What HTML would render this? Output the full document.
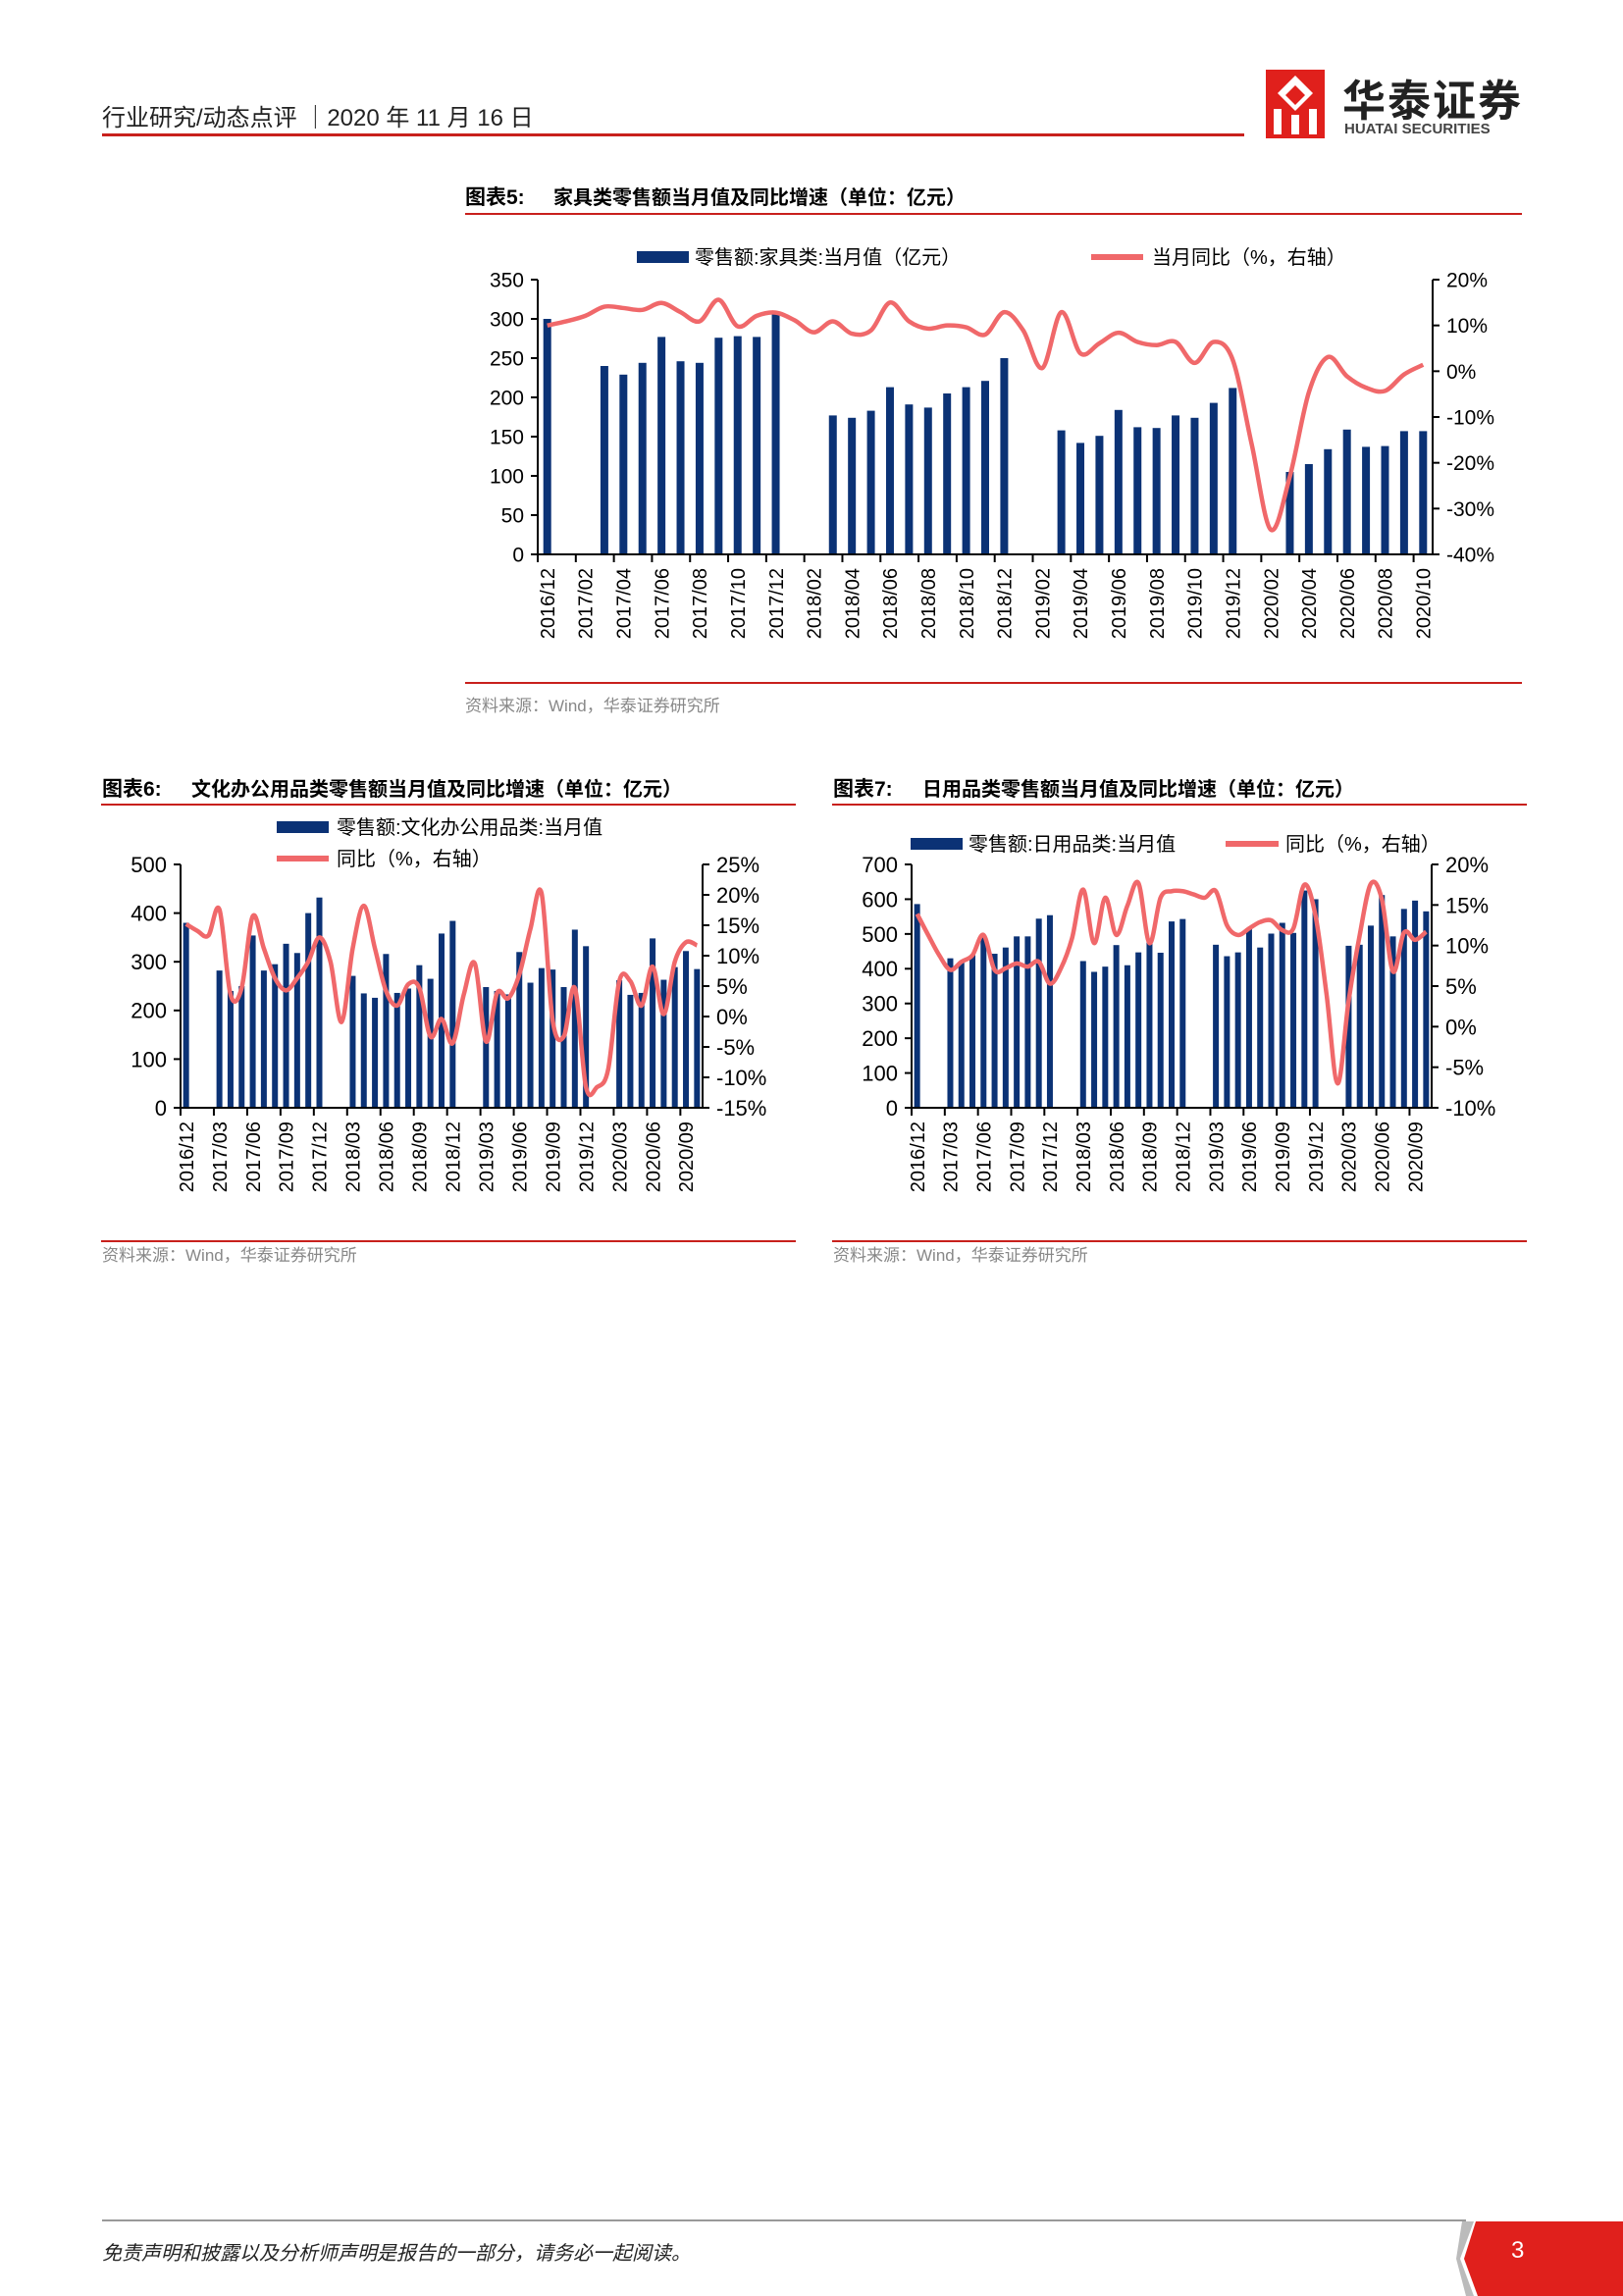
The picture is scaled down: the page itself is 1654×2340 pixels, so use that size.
<!DOCTYPE html>
<html><head><meta charset="utf-8"><style>
html,body{margin:0;padding:0;background:#fff;}
body{width:1654px;height:2339px;position:relative;overflow:hidden;font-family:"Liberation Sans","Noto Sans CJK SC",sans-serif;}
.abs{position:absolute;white-space:nowrap;}
svg text{font-family:"Liberation Sans","Noto Sans CJK SC",sans-serif;}
</style></head><body>
<div class="abs" style="left:104px;top:100px;font-size:24px;color:#222;">行业研究/动态点评 ｜2020 年 11 月 16 日</div>
<div class="abs" style="left:104px;top:136px;width:1164px;height:3px;background:#c8201c;"></div>
<div class="abs" style="left:1290px;top:67px;width:262px;height:76px;">
  <svg width="60" height="70" viewBox="0 0 60 70" style="position:absolute;left:0;top:4px;">
    <rect x="0" y="0" width="60" height="70" fill="#e0201c"/>
    <path d="M30 6 L12 24 L30 42 L48 24 Z" fill="#fff"/>
    <path d="M30 16 L20 26 L30 36 L40 26 Z" fill="#e0201c"/>
    <rect x="8" y="40" width="8" height="26" fill="#fff"/><rect x="44" y="40" width="8" height="26" fill="#fff"/><rect x="26" y="46" width="8" height="20" fill="#fff"/>
  </svg>
  <div class="abs" style="left:78px;top:0px;font-size:44px;font-weight:bold;color:#222;letter-spacing:2px;">华泰证券</div>
  <div class="abs" style="left:80px;top:56px;font-size:15px;font-weight:bold;color:#444;">HUATAI SECURITIES</div>
</div>

<svg id="page" width="1654" height="2339" style="position:absolute;left:0;top:0;"></svg>

<div class="abs" style="left:104px;top:2262px;width:1390px;height:2px;background:#999;"></div>
<div class="abs" style="left:104px;top:2280px;font-size:20px;font-style:italic;color:#222;">免责声明和披露以及分析师声明是报告的一部分，请务必一起阅读。</div>
<svg class="abs" width="170" height="80" style="left:1484px;top:2260px;"><path d="M20 4 L170 4 L170 80 L22 80 L8 42 Z" fill="#e0201c"/><path d="M6 4 L18 4 L4 42 L18 80 L10 80 L0 42Z" fill="#bbb"/></svg>
<div class="abs" style="left:1540px;top:2280px;font-size:24px;color:#fff;">3</div>

<script>
const months = [];
(function(){let y=2016,m=12;for(let i=0;i<47;i++){months.push(y+'/'+String(m).padStart(2,'0'));m++;if(m>12){m=1;y++;}}})();

const furnitureValues = [300,null,null,240,229,244,277,246,244,276,278,277,309,null,null,177,174,183,213,191,187,205,213,221,250,null,null,158,142,151,184,162,161,177,174,193,212,null,null,105,115,134,159,137,138,157,157];
const furnitureYoY = [10.0,10.9,12.1,14.1,13.8,13.4,14.9,12.9,10.9,15.6,9.8,12.1,12.8,11.1,8.5,10.9,8.2,8.9,15.0,10.9,9.3,10.0,9.6,8.0,12.9,8.9,0.7,12.9,3.9,6.1,8.4,6.4,5.7,6.4,1.8,6.4,2.5,-16,-34.6,-23,-4.6,3.1,-1.1,-3.6,-4.3,-0.7,1.4];
const furnitureLeftTicks = [0,50,100,150,200,250,300,350];
const furnitureRightTicks = [-40,-30,-20,-10,0,10,20];

const officeValues = [380,null,null,282,240,250,354,282,295,337,318,400,432,null,null,271,235,226,316,236,245,293,265,358,384,null,null,248,240,233,320,257,287,284,248,366,332,null,null,262,232,236,348,263,289,322,285];
const officeYoY = [15.2,14.1,13.3,17.6,3.6,4.7,16.5,11.2,6.3,4.3,6.3,9.0,13.0,9.0,-0.9,11.2,18.2,11.2,4.2,1.8,5.3,4.7,-3.3,-0.4,-4.4,3.6,8.7,-4.1,3.9,3.0,6.9,14.4,20.3,-0.6,-3.3,4.7,-11.6,-11.6,-8.7,5.8,5.8,1.8,8.2,0.4,9.0,12.2,11.7];
const officeLeftTicks = [0,100,200,300,400,500];
const officeRightTicks = [-15,-10,-5,0,5,10,15,20,25];

const dailyValues = [586,null,null,430,420,439,490,443,461,493,493,544,554,null,null,422,391,406,468,410,447,476,446,536,543,null,null,469,436,447,514,461,501,532,503,625,600,null,null,466,469,524,612,493,572,596,565];
const dailyYoY = [13.9,11.3,8.8,7.0,8.0,8.8,11.3,7.0,7.2,7.8,7.4,8.0,5.3,7.2,10.9,16.9,10.3,15.9,11.3,14.9,17.7,10.3,15.9,16.7,16.7,16.3,15.9,16.7,12.5,11.3,12.1,12.9,13.1,11.9,12.1,17.5,13.7,4.0,-7.0,3.2,11.3,17.6,15.7,6.8,11.6,10.7,11.7];
const dailyLeftTicks = [0,100,200,300,400,500,600,700];
const dailyRightTicks = [-10,-5,0,5,10,15,20];

const NS='http://www.w3.org/2000/svg';
const page=document.getElementById('page');
function mk(tag,attrs,parent,text){const e=document.createElementNS(NS,tag);for(const k in attrs)e.setAttribute(k,attrs[k]);if(text!==undefined)e.textContent=text;(parent||page).appendChild(e);return e;}

function smoothPath(pts){let d='M'+pts[0][0]+' '+pts[0][1];for(let i=0;i<pts.length-1;i++){const p0=pts[Math.max(0,i-1)],p1=pts[i],p2=pts[i+1],p3=pts[Math.min(pts.length-1,i+2)];const t=6;d+=' C'+(p1[0]+(p2[0]-p0[0])/t)+' '+(p1[1]+(p2[1]-p0[1])/t)+' '+(p2[0]-(p3[0]-p1[0])/t)+' '+(p2[1]-(p3[1]-p1[1])/t)+' '+p2[0]+' '+p2[1];}return d;}

function drawChart(c){
  const g=mk('g',{});
  
  
  const n=c.cats.length, slot=(c.x1-c.x0)/n;
  const xC=i=>c.x0+slot*(i+0.5);
  const yL=v=>c.y0-(v-c.lmin)/(c.lmax-c.lmin)*(c.y0-c.y1);
  const yR=v=>c.y0-(v-c.rmin)/(c.rmax-c.rmin)*(c.y0-c.y1);
  c.vals.forEach((v,i)=>{if(v==null)return;const b=mk('rect',{x:xC(i)-c.bw/2,y:yL(v),width:c.bw,height:c.y0-yL(v),fill:'#0b3275'},g);
    
    });
  const ax=mk('line',{x1:c.x0,y1:c.y1,x2:c.x0,y2:c.y0,stroke:'#000','stroke-width':2},g);
  
  const ar=mk('line',{x1:c.x1,y1:c.y1,x2:c.x1,y2:c.y0,stroke:'#000','stroke-width':2},g);
  
  const xa=mk('line',{x1:c.x0-6,y1:c.y0,x2:c.x1,y2:c.y0,stroke:'#000','stroke-width':2},g);
  
  c.lt.forEach(v=>{mk('line',{x1:c.x0-7,y1:yL(v),x2:c.x0,y2:yL(v),stroke:'#000','stroke-width':2},g);
    const t=mk('text',{x:c.x0-14,y:yL(v)+c.fs*0.36,'text-anchor':'end','font-size':c.fs,fill:'#000'},g,String(v));
    });
  c.rt.forEach(v=>{mk('line',{x1:c.x1,y1:yR(v),x2:c.x1+7,y2:yR(v),stroke:'#000','stroke-width':2},g);
    const t=mk('text',{x:c.x1+14,y:yR(v)+c.fs*0.36,'font-size':c.fs,fill:'#000'},g,v+'%');
    });
  for(let i=0;i<n;i+=c.step){const tx=c.x0+slot*i;mk('line',{x1:tx,y1:c.y0,x2:tx,y2:c.y0+8,stroke:'#000','stroke-width':2},g);
    const t=mk('text',{x:0,y:0,'text-anchor':'end','font-size':c.xfs,fill:'#000',transform:'translate('+(xC(i)+c.xfs*0.36)+','+(c.y0+14)+') rotate(-90)'},g,c.cats[i]);
    }
  const pts=c.yoy.map((v,i)=>[xC(i),yR(v)]);
  const ln=mk('path',{d:smoothPath(pts),fill:'none',stroke:'#f0686a','stroke-width':4.5,'stroke-linejoin':'round'},g);
  
}

function txt(x,y,s,fs,attrs,name){const t=mk('text',Object.assign({x:x,y:y,'font-size':fs,fill:'#000'},attrs||{}),page,s);
  return t;}
function rect(x,y,w,h,f,name){const r=mk('rect',{x:x,y:y,width:w,height:h,fill:f});return r;}

txt(474,208,'图表5:',21,{'font-weight':'bold'},'chart5-label');
txt(564,208,'家具类零售额当月值及同比增速（单位：亿元）',20,{'font-weight':'bold'},'chart5-title');
rect(474,217,1077,2,'#c8201c','chart5-title-rule');
rect(649,256,53,12,'#0b3275','chart5-legend-bar-swatch');
txt(708,269,'零售额:家具类:当月值（亿元）',20,{},'chart5-legend-bar-text');
rect(1112,259,53,6,'#f0686a','chart5-legend-line-swatch');
txt(1174,269,'当月同比（%，右轴）',20,{},'chart5-legend-line-text');
drawChart({name:'chart5-furniture',cats:months,vals:furnitureValues,yoy:furnitureYoY,lt:furnitureLeftTicks,rt:furnitureRightTicks,
  x0:548,x1:1460,y0:565,y1:285,lmin:0,lmax:350,rmin:-40,rmax:20,bw:8,step:2,fs:21,xfs:20});
rect(474,695,1077,2,'#c8201c','chart5-bottom-rule');
txt(474,725,'资料来源：Wind，华泰证券研究所',17,{fill:'#888'},'chart5-source');

txt(104,811,'图表6:',21,{'font-weight':'bold'},'chart6-label');
txt(195,811,'文化办公用品类零售额当月值及同比增速（单位：亿元）',20,{'font-weight':'bold'},'chart6-title');
rect(103,819,708,2,'#c8201c','chart6-title-rule');
rect(282,837,53,12,'#0b3275','chart6-legend-bar-swatch');
txt(343,850,'零售额:文化办公用品类:当月值',20,{},'chart6-legend-bar-text');
rect(282,872,53,6,'#f0686a','chart6-legend-line-swatch');
txt(343,882,'同比（%，右轴）',20,{},'chart6-legend-line-text');
drawChart({name:'chart6-office',cats:months,vals:officeValues,yoy:officeYoY,lt:officeLeftTicks,rt:officeRightTicks,
  x0:184,x1:716,y0:1129,y1:881,lmin:0,lmax:500,rmin:-15,rmax:25,bw:6,step:3,fs:22,xfs:20});
rect(103,1264,708,2,'#c8201c','chart6-bottom-rule');
txt(104,1285,'资料来源：Wind，华泰证券研究所',17,{fill:'#888'},'chart6-source');

txt(849,811,'图表7:',21,{'font-weight':'bold'},'chart7-label');
txt(940,811,'日用品类零售额当月值及同比增速（单位：亿元）',20,{'font-weight':'bold'},'chart7-title');
rect(848,819,708,2,'#c8201c','chart7-title-rule');
rect(928,854,53,12,'#0b3275','chart7-legend-bar-swatch');
txt(987,867,'零售额:日用品类:当月值',20,{},'chart7-legend-bar-text');
rect(1249,857,54,6,'#f0686a','chart7-legend-line-swatch');
txt(1310,867,'同比（%，右轴）',20,{},'chart7-legend-line-text');
drawChart({name:'chart7-daily',cats:months,vals:dailyValues,yoy:dailyYoY,lt:dailyLeftTicks,rt:dailyRightTicks,
  x0:929,x1:1459,y0:1129,y1:881,lmin:0,lmax:700,rmin:-10,rmax:20,bw:6,step:3,fs:22,xfs:20});
rect(848,1264,708,2,'#c8201c','chart7-bottom-rule');
txt(849,1285,'资料来源：Wind，华泰证券研究所',17,{fill:'#888'},'chart7-source');
</script>
</body></html>
